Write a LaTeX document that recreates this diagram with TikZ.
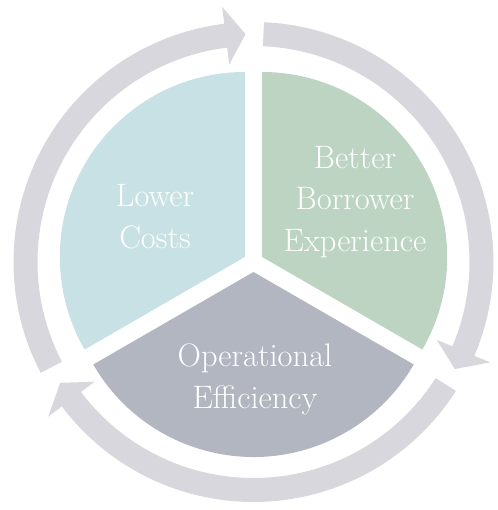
\documentclass[tikz,border=0pt]{standalone}
\usepackage{fontspec}
\usepackage{tikz}
\definecolor{costblue}{HTML}{C8E1E5}
\definecolor{borrowgreen}{HTML}{BCD4C1}
\definecolor{opsgray}{HTML}{B1B6C0}
\definecolor{ringgray}{HTML}{D8D7DD}

\begin{document}
\begin{tikzpicture}[
        x=1pt, y=1pt,
        every node/.style={font=\fontsize{32.5}{41.5}\selectfont, text=white, align=center},
        slice/.style={fill=#1},
        cyclearrow/.style={fill=ringgray}
    ]
    \useasboundingbox (-253.5,-248) rectangle (243.5,262);
%
    \fill[slice=costblue, shift={(150:10)}] (0,0) -- (90:185) arc[start angle=90, end angle=210, radius=185] -- cycle;
    \fill[slice=borrowgreen, shift={(30:10)}] (0,0) -- (-30:185) arc[start angle=-30, end angle=90, radius=185] -- cycle;
    \fill[slice=opsgray, shift={(270:10)}] (0,0) -- (210:185) arc[start angle=210, end angle=330, radius=185] -- cycle;
%
    \foreach \t in {207.5, 87.5, -32.5}
        \fill[cyclearrow] (\t:240) arc[start angle=\t, end angle=\t-110.5, radius=240]
            -- ({\t-110.5}:257) -- ({\t-115.5}:228) -- ({\t-110.5}:199) -- ({\t-110.5}:216)
            arc[start angle=\t-110.5, end angle=\t, radius=216] -- cycle;
%
    \node (costs) at (-98.5,45.5) {Lower\\Costs};
    \node (borrower) at (101.5,60) {Better\\Borrower\\Experience};
    \node (efficiency) at (1.5,-117.5) {Operational\\Efficiency};
%
\end{tikzpicture}
\end{document}
